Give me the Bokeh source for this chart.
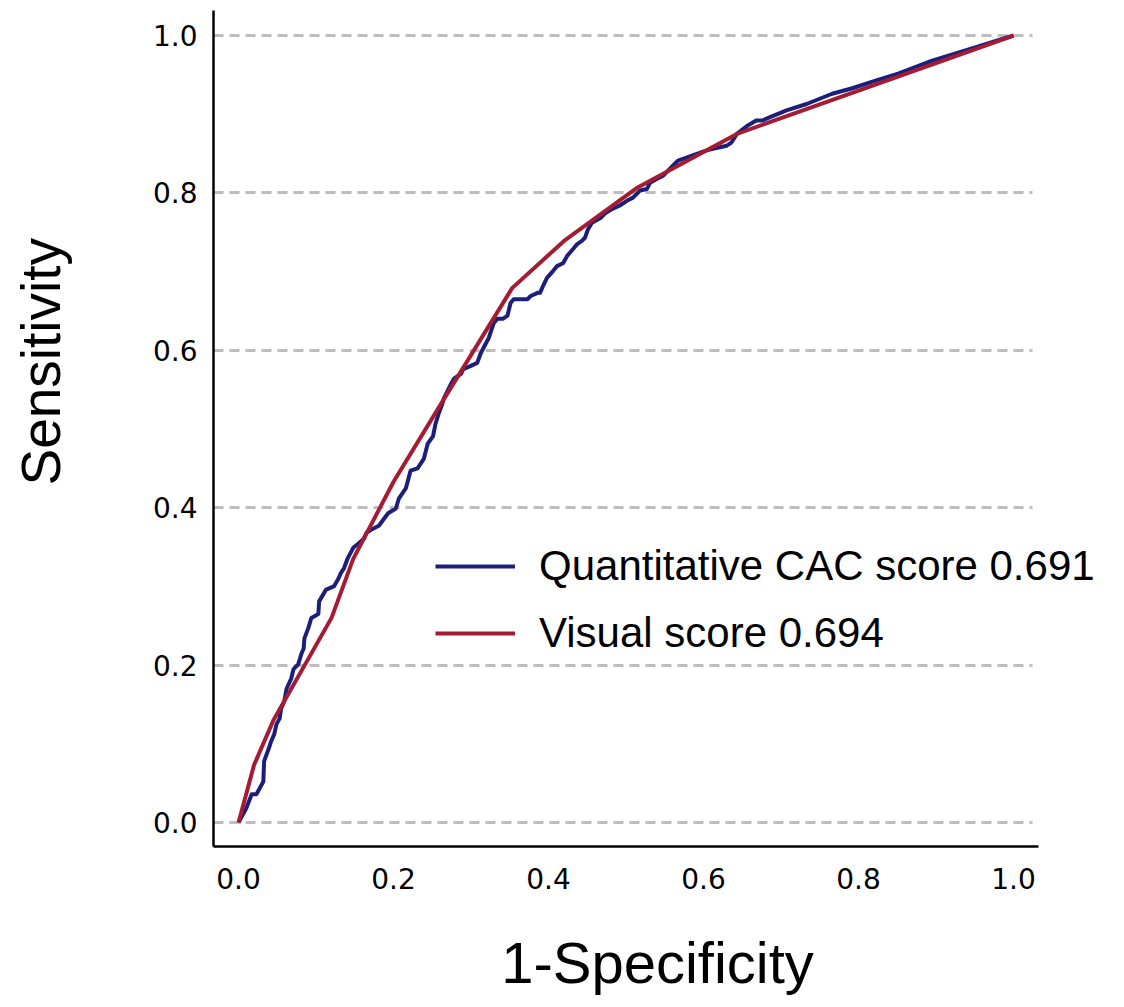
from bokeh.plotting import figure
from bokeh.models import (Range1d, FixedTicker, PrintfTickFormatter, Legend, LegendItem,
                          LinearAxis, Title)
from bokeh.embed import file_html
from bokeh.resources import INLINE

# ---- data ----
cac_fpr = [0.000, 0.010, 0.017, 0.023, 0.027, 0.032, 0.033, 0.039, 0.042, 0.046,
           0.049, 0.053, 0.055, 0.059, 0.062, 0.068, 0.071, 0.077, 0.081, 0.084,
           0.085, 0.090, 0.094, 0.103, 0.104, 0.113, 0.123, 0.129, 0.132, 0.136,
           0.141, 0.148, 0.154, 0.162, 0.165, 0.171, 0.181, 0.193, 0.203, 0.207,
           0.216, 0.222, 0.231, 0.239, 0.244, 0.251, 0.254, 0.258, 0.263, 0.265,
           0.274, 0.278, 0.287, 0.290, 0.299, 0.308, 0.312, 0.316, 0.323, 0.329,
           0.334, 0.341, 0.347, 0.351, 0.355, 0.373, 0.377, 0.386, 0.389, 0.393,
           0.398, 0.406, 0.411, 0.419, 0.424, 0.432, 0.437, 0.443, 0.447, 0.451,
           0.456, 0.467, 0.473, 0.483, 0.492, 0.501, 0.509, 0.518, 0.527, 0.531,
           0.540, 0.548, 0.557, 0.567, 0.578, 0.595, 0.604, 0.612, 0.621, 0.630,
           0.636, 0.643, 0.656, 0.668, 0.676, 0.685, 0.707, 0.733, 0.766, 0.792,
           0.823, 0.852, 0.895, 0.938, 1.000]
cac_tpr = [0.000, 0.018, 0.036, 0.036, 0.043, 0.052, 0.078, 0.094, 0.103, 0.112,
           0.125, 0.132, 0.145, 0.154, 0.170, 0.183, 0.195, 0.201, 0.214, 0.221,
           0.234, 0.247, 0.260, 0.265, 0.281, 0.296, 0.300, 0.310, 0.317, 0.323,
           0.336, 0.349, 0.354, 0.361, 0.368, 0.372, 0.377, 0.393, 0.399, 0.412,
           0.425, 0.447, 0.450, 0.462, 0.481, 0.491, 0.506, 0.519, 0.532, 0.539,
           0.557, 0.564, 0.570, 0.576, 0.580, 0.584, 0.595, 0.603, 0.616, 0.634,
           0.640, 0.640, 0.644, 0.660, 0.665, 0.665, 0.669, 0.673, 0.673, 0.682,
           0.692, 0.701, 0.707, 0.711, 0.720, 0.729, 0.735, 0.739, 0.743, 0.754,
           0.762, 0.768, 0.774, 0.780, 0.784, 0.790, 0.794, 0.803, 0.805, 0.813,
           0.818, 0.822, 0.831, 0.841, 0.845, 0.851, 0.854, 0.856, 0.858, 0.860,
           0.864, 0.875, 0.885, 0.892, 0.892, 0.896, 0.905, 0.913, 0.926, 0.933,
           0.943, 0.952, 0.968, 0.981, 1.000]

visual_fpr = [0.000, 0.020, 0.045, 0.120, 0.148, 0.200, 0.265, 0.353, 0.420, 0.515, 0.643, 1.000]
visual_tpr = [0.000, 0.073, 0.130, 0.260, 0.335, 0.433, 0.538, 0.679, 0.739, 0.807, 0.875, 1.000]

series_labels = ["Quantitative CAC score 0.691", "Visual score 0.694"]
tick_values = [0.0, 0.2, 0.4, 0.6, 0.8, 1.0]
x_title = "1-Specificity"
y_title = "Sensitivity"

BLUE = "#1c1f7a"
RED = "#a51b32"

X_START, X_AXIS_END, X_GRID_END, X_END = -0.0323, 1.032, 1.0245, 1.1135
Y_START, Y_END = -0.0305, 1.0318

p = figure(width=1116, height=1005,
           x_range=Range1d(X_START, X_END), y_range=Range1d(Y_START, Y_END),
           output_backend="svg", toolbar_location=None,
           min_border_left=213, min_border_right=15,
           min_border_top=10, min_border_bottom=159)

p.outline_line_color = None
p.background_fill_color = "white"
p.border_fill_color = "white"

# grid
p.xgrid.grid_line_color = None
yg = p.ygrid[0]
yg.ticker = FixedTicker(ticks=tick_values)
if "cross_bounds" in yg.properties():
    yg.grid_line_color = "#bdbdbd"
    yg.grid_line_width = 3
    yg.grid_line_dash = "10 6"
    yg.cross_bounds = (X_START, X_GRID_END)
else:
    yg.grid_line_color = None
    p.segment(x0=[X_START] * len(tick_values), x1=[X_GRID_END] * len(tick_values),
              y0=tick_values, y1=tick_values,
              line_color="#bdbdbd", line_width=3, line_dash="10 6")

# inner axes: axis line + tick labels
for ax in (p.xaxis[0], p.yaxis[0]):
    ax.ticker = FixedTicker(ticks=tick_values)
    ax.formatter = PrintfTickFormatter(format="%.1f")
    ax.major_tick_in = 0
    ax.major_tick_out = 0
    ax.minor_tick_in = 0
    ax.minor_tick_out = 0
    ax.axis_line_color = "black"
    ax.axis_line_width = 2.5
    ax.major_label_text_font = "DejaVu Sans"
    ax.major_label_text_font_size = "28px"
    ax.major_label_text_color = "black"

p.xaxis[0].bounds = (X_START, X_AXIS_END)
p.xaxis[0].major_label_standoff = 21
p.yaxis[0].major_label_standoff = 16

# x axis title: a label-only axis below the tick labels
x_title_axis = LinearAxis(ticker=FixedTicker(ticks=[]), axis_line_color=None,
                          major_tick_in=0, major_tick_out=0, minor_tick_in=0, minor_tick_out=0,
                          major_label_standoff=0,
                          axis_label=x_title, axis_label_standoff=38,
                          axis_label_text_font="Liberation Sans",
                          axis_label_text_font_size="58px",
                          axis_label_text_font_style="normal",
                          axis_label_text_color="black")
p.add_layout(x_title_axis, "below")

# y axis title: invisible-tick spacer axis, then a title shifted upward along the axis
y_spacer = LinearAxis(ticker=FixedTicker(ticks=tick_values), axis_line_color=None,
                      major_tick_in=0, major_tick_out=71, major_tick_line_color=None,
                      minor_tick_in=0, minor_tick_out=0, major_label_standoff=0,
                      major_label_overrides={t: "" for t in tick_values})
p.add_layout(y_spacer, "left")
yt = Title(text=y_title, align="left", offset=361, standoff=13,
           text_font="Liberation Sans", text_font_size="55px",
           text_font_style="normal", text_color="black")
p.add_layout(yt, "left")

r_cac = p.line(cac_fpr, cac_tpr, line_color=BLUE, line_width=4, line_join="round")
r_vis = p.line(visual_fpr, visual_tpr, line_color=RED, line_width=4, line_join="round")

legend = Legend(items=[LegendItem(label=series_labels[0], renderers=[r_cac]),
                       LegendItem(label=series_labels[1], renderers=[r_vis])],
                location=(222, 188), orientation="vertical",
                label_text_font="Liberation Sans", label_text_font_size="42px",
                label_text_color="black",
                glyph_width=80, glyph_height=50, label_height=50,
                label_standoff=24, spacing=17, padding=0, margin=0,
                border_line_alpha=0, background_fill_alpha=0)
p.add_layout(legend)

open("out.html", "w").write(file_html(p, INLINE))
